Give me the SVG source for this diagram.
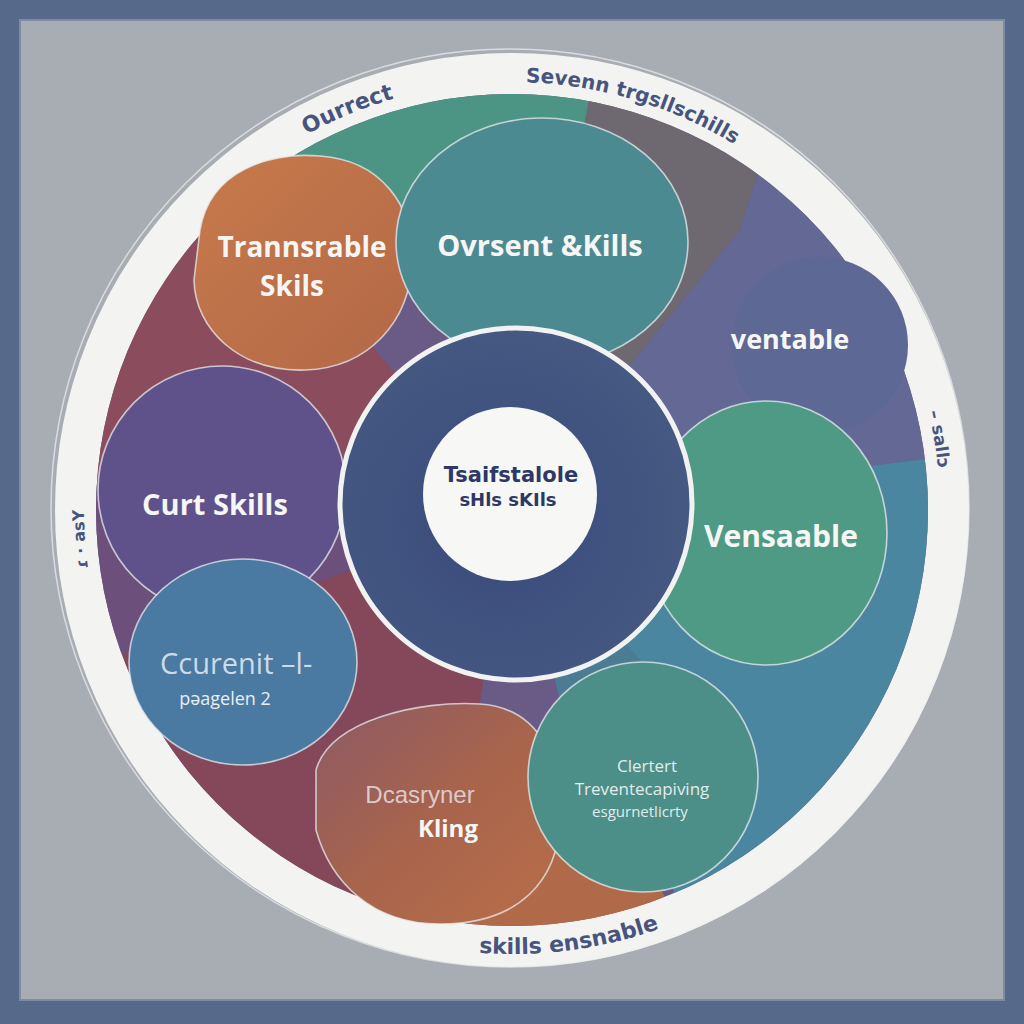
<svg xmlns="http://www.w3.org/2000/svg" width="1024" height="1024" viewBox="0 0 1024 1024">
<defs>
<style>
.lbl{font-family:"Open Sans","DejaVu Sans",sans-serif;font-weight:700;fill:#f6f6f4;text-anchor:middle}
.ring{font-family:"DejaVu Sans","Open Sans",sans-serif;font-weight:700;fill:#47557e}
.edge{fill:none;stroke:#e9ecef;stroke-width:1.6;stroke-opacity:0.75}
.soft{font-family:"Open Sans","DejaVu Sans",sans-serif;fill:#e2ecec;text-anchor:middle}
</style>
<clipPath id="disk"><circle cx="512" cy="510" r="416"/></clipPath>
<radialGradient id="navy" cx="0.45" cy="0.55" r="0.6">
<stop offset="0" stop-color="#3a4a7c"/><stop offset="1" stop-color="#465a82"/>
</radialGradient>
<linearGradient id="org" x1="0" y1="0" x2="1" y2="1">
<stop offset="0" stop-color="#c77a4a"/><stop offset="1" stop-color="#b36848"/>
</linearGradient>
<linearGradient id="brn" x1="0" y1="0" x2="1" y2="1">
<stop offset="0" stop-color="#8c5a66"/><stop offset="0.5" stop-color="#a8644c"/><stop offset="1" stop-color="#b86e48"/>
</linearGradient>
<path id="cw" d="M84,510 A428,428 0 1,1 940,510 A428,428 0 1,1 84,510"/>
<path id="ccw" d="M68,510 A444,444 0 0,0 956,510"/>
</defs>
<rect x="0" y="0" width="1024" height="1024" fill="#56698a"/>
<rect x="20" y="20" width="984" height="980" fill="#a8adb4" stroke="#7d8ca4" stroke-width="2"/>

<g id="ring-outer">
<circle cx="512" cy="510" r="436" fill="none" stroke="#f3f3f1" stroke-width="42"/>
<circle cx="510" cy="508" r="459" fill="none" stroke="#eef0f0" stroke-width="1.5" stroke-opacity="0.7"/>
</g>

<g id="disk-segments" clip-path="url(#disk)">
<rect x="90" y="90" width="850" height="850" fill="#6a5a86"/>
<polygon points="512,510 0,700 0,480" fill="#6c4f7a"/>
<polygon points="512,510 0,480 0,150 170,110" fill="#8b4c5e"/>
<polygon points="170,80 300,40 620,40 580,200 430,250 300,180" fill="#4c9584"/>
<polygon points="512,510 600,40 800,40 740,230" fill="#6e6870"/>
<polygon points="512,510 740,230 800,40 1000,250 1000,450" fill="#636894"/>
<polygon points="512,510 1000,450 1000,1000 720,1000" fill="#4a86a0"/>
<polygon points="512,510 430,1000 0,1000 0,700" fill="#84485a"/>
<polygon points="460,760 570,720 720,1000 380,1000" fill="#b06a4a"/>
<polygon points="512,510 560,700 640,660" fill="#4b7c94"/>
</g>

<g id="node-ventable">
<circle cx="820" cy="345" r="88" fill="#5d6894"/>
<text class="lbl" x="790" y="349" font-size="27" font-weight="600">ventable</text>
</g>

<g id="node-transferable">
<path d="M200,230 C210,170 270,152 320,156 C380,160 415,205 412,262 C410,320 370,368 305,370 C240,372 195,330 194,280 Z" fill="url(#org)"/>
<path class="edge" d="M200,230 C210,170 270,152 320,156 C380,160 415,205 412,262 C410,320 370,368 305,370 C240,372 195,330 194,280 Z"/>
<text class="lbl" x="302" y="257" font-size="28">Trannsrable</text>
<text class="lbl" x="292" y="296" font-size="28">Skils</text>
</g>

<g id="node-ovrsent">
<ellipse cx="542" cy="242" rx="146" ry="124" fill="#4c8a92"/>
<ellipse class="edge" cx="542" cy="242" rx="146" ry="124"/>
<text class="lbl" x="540" y="256" font-size="29">Ovrsent &amp;Kills</text>
</g>

<g id="node-curt">
<circle cx="222" cy="490" r="124" fill="#5f528a"/>
<circle class="edge" cx="222" cy="490" r="124"/>
<text class="lbl" x="215" y="515" font-size="29" font-weight="600">Curt Skills</text>
</g>

<g id="node-ccurenit">
<ellipse cx="243" cy="662" rx="114" ry="103" fill="#4a79a1"/>
<ellipse class="edge" cx="243" cy="662" rx="114" ry="103"/>
<text x="160" y="674" font-family="'Open Sans','DejaVu Sans',sans-serif" font-size="29" fill="#cddbe8">Ccurenit –l-</text>
<text x="225" y="705" font-family="'Open Sans','DejaVu Sans',sans-serif" font-size="18" fill="#e8eef4" text-anchor="middle">pəagelen 2</text>
</g>

<g id="node-dcasryner">
<path d="M316,770 C330,720 420,700 480,704 C540,708 562,760 560,820 C558,880 520,924 440,924 C370,924 330,880 316,830 Z" fill="url(#brn)"/>
<path class="edge" d="M316,770 C330,720 420,700 480,704 C540,708 562,760 560,820 C558,880 520,924 440,924 C370,924 330,880 316,830 Z"/>
<text x="420" y="803" font-family="'Liberation Sans','DejaVu Sans',sans-serif" font-size="24" fill="#dccaca" text-anchor="middle">Dcasryner</text>
<text class="lbl" x="448" y="837" font-size="24" font-weight="600">Kling</text>
</g>

<g id="node-clertert">
<circle cx="643" cy="777" r="115" fill="#4c8f88"/>
<circle class="edge" cx="643" cy="777" r="115"/>
<text class="soft" x="647" y="772" font-size="17">Clertert</text>
<text class="soft" x="642" y="795" font-size="17">Treventecapiving</text>
<text class="soft" x="640" y="817" font-size="15">esgurnetlicrty</text>
</g>

<g id="node-vensaable">
<ellipse cx="766" cy="533" rx="121" ry="132" fill="#4f9a84"/>
<ellipse class="edge" cx="766" cy="533" rx="121" ry="132"/>
</g>

<g id="node-center">
<circle cx="516" cy="504" r="176" fill="url(#navy)" stroke="#f2f2f2" stroke-width="5"/>
<circle cx="510" cy="494" r="87" fill="#f7f7f5"/>
<text x="511" y="482" font-family="'DejaVu Sans','Open Sans',sans-serif" font-weight="700" font-size="21" fill="#2d3866" text-anchor="middle">Tsaifstalole</text>
<text x="508" y="506" font-family="'DejaVu Sans','Open Sans',sans-serif" font-weight="700" font-size="18" fill="#2d3866" text-anchor="middle">sHls sKIls</text>
</g>

<g id="label-vensaable">
<text class="lbl" x="781" y="547" font-size="30">Vensaable</text>
</g>

<g id="ring-texts">
<text class="ring" font-size="22"><textPath href="#cw" startOffset="458">Ourrect</textPath></text>
<text class="ring" font-size="20"><textPath href="#cw" startOffset="686">Sevenn trgsllschills</textPath></text>
<text class="ring" font-size="17"><textPath href="#cw" startOffset="1245">–  sallɔ</textPath></text>
<text class="ring" font-size="16"><textPath href="#cw" startOffset="2630">ɾ · asY</textPath></text>
<text class="ring" font-size="22"><textPath href="#ccw" startOffset="664">skills ensnable</textPath></text>
</g>
</svg>
